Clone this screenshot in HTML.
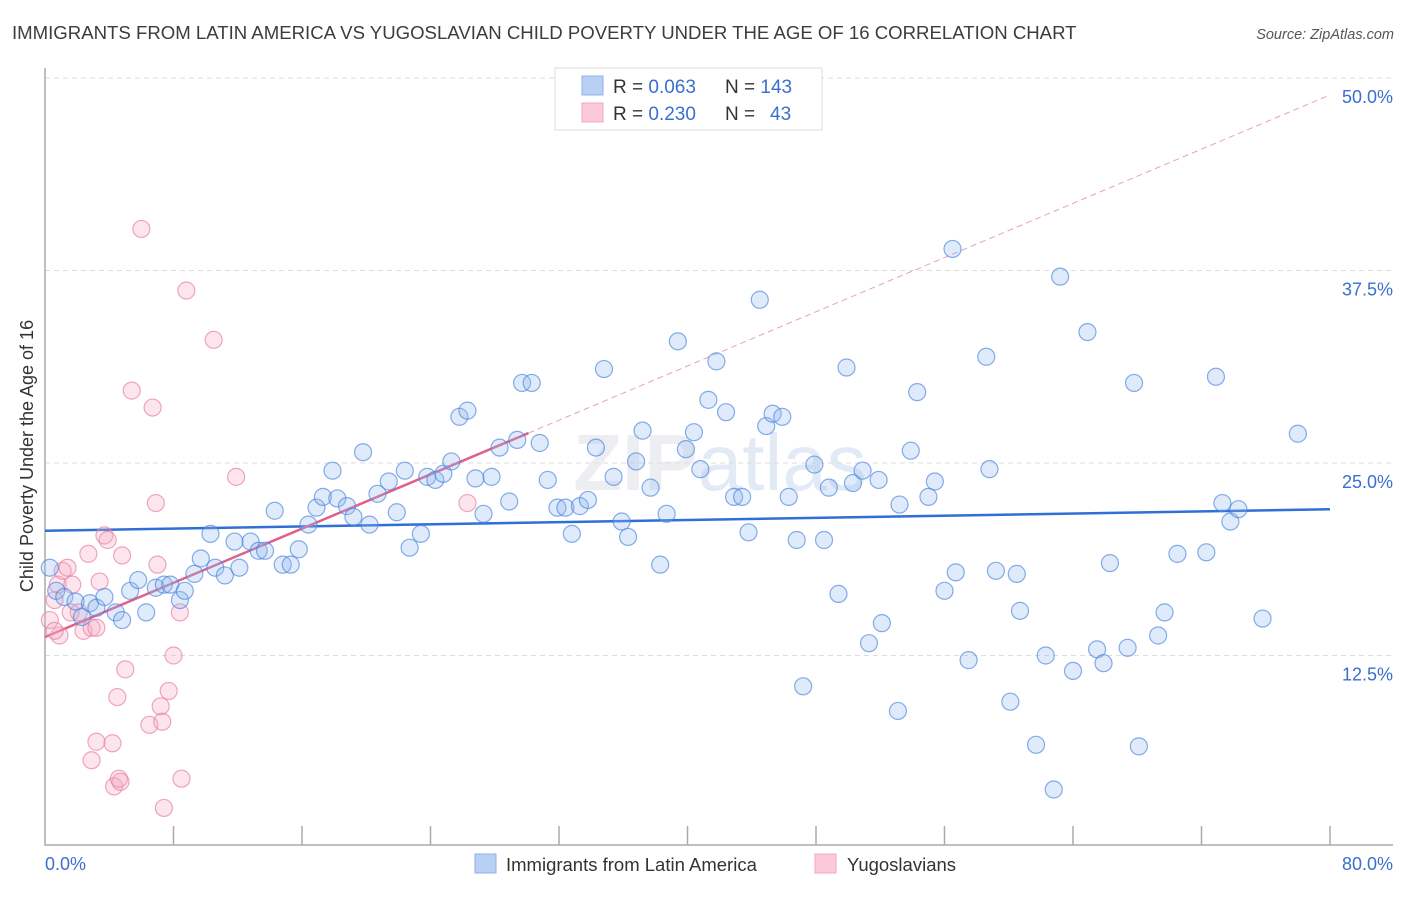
<!DOCTYPE html>
<html><head><meta charset="utf-8">
<style>
body{margin:0;background:#fff;font-family:"Liberation Sans",sans-serif;}
svg text{font-family:"Liberation Sans",sans-serif;}
</style></head>
<body>
<svg id="chart" width="1406" height="892" xmlns="http://www.w3.org/2000/svg">
<text x="12" y="39" font-size="18.6" fill="#3c3c3c">IMMIGRANTS FROM LATIN AMERICA VS YUGOSLAVIAN CHILD POVERTY UNDER THE AGE OF 16 CORRELATION CHART</text>
<text x="1394" y="39" font-size="14.5" font-style="italic" fill="#555" text-anchor="end">Source: ZipAtlas.com</text>
<text x="720" y="490" font-size="80" fill="#eceef2" text-anchor="middle" font-family="Liberation Serif" font-weight="bold">ZIP<tspan font-family="Liberation Sans" font-weight="normal" fill="#e2eaf6">atlas</tspan></text>
<g id="grid"></g>
<g id="axes"></g>
<g id="trends"></g>
<g id="points"></g>
<text transform="translate(33,456) rotate(-90)" font-size="18" fill="#333" text-anchor="middle">Child Poverty Under the Age of 16</text>
<g>
<rect x="555" y="68" width="267" height="62" fill="#fff" stroke="#ddd"/>
<rect x="582" y="76" width="21" height="19" fill="#b8d0f4" stroke="#8fb0e8"/>
<rect x="582" y="103" width="21" height="19" fill="#fbc9d8" stroke="#f0a6be"/>
<text x="613" y="93" font-size="19" fill="#333">R = <tspan fill="#3a6fd0">0.063</tspan><tspan x="725">N = </tspan><tspan fill="#3a6fd0">143</tspan></text>
<text x="613" y="120" font-size="19" fill="#333">R = <tspan fill="#3a6fd0">0.230</tspan><tspan x="725">N = </tspan><tspan x="770" fill="#3a6fd0">43</tspan></text>
</g>
<g>
<rect x="475" y="854" width="21" height="19" fill="#b8d0f4" stroke="#8fb0e8"/>
<text x="506" y="871" font-size="18.5" fill="#333">Immigrants from Latin America</text>
<rect x="815" y="854" width="21" height="19" fill="#fbc9d8" stroke="#f0a6be"/>
<text x="847" y="871" font-size="18.5" fill="#333">Yugoslavians</text>
</g>
</svg>
<script>
const blueX=[0.3,0.7,1.2,1.9,2.3,2.8,3.2,3.7,4.4,4.8,5.3,5.8,6.3,6.9,7.4,7.8,8.4,8.7,9.3,9.7,10.3,10.6,11.2,11.8,12.1,12.8,13.3,13.7,14.3,14.8,15.3,15.8,16.4,16.9,17.3,17.9,18.2,18.8,19.2,19.8,20.2,20.7,21.4,21.9,22.4,22.7,23.4,23.8,24.3,24.8,25.3,25.8,26.3,26.8,27.3,27.8,28.3,28.9,29.4,29.7,30.3,30.8,31.3,31.9,32.4,32.8,33.3,33.8,34.3,34.8,35.4,35.9,36.3,36.8,37.2,37.7,38.7,38.3,39.4,39.9,40.4,40.8,41.3,41.8,42.4,42.9,43.4,43.8,44.5,44.9,45.3,45.9,46.3,46.8,47.2,47.9,48.5,48.8,49.4,49.9,50.3,50.9,51.3,51.9,52.1,53.1,53.2,53.9,54.3,55.0,55.4,56.0,56.5,56.7,57.5,58.6,58.8,59.2,60.1,60.7,60.5,61.7,62.3,62.8,63.2,64.0,64.9,65.5,65.9,66.3,67.4,67.8,68.1,69.3,69.7,70.5,72.3,72.9,73.3,73.8,74.3,75.8,78.0];
const blueY=[18.2,16.7,16.3,16.0,15.0,15.9,15.6,16.3,15.3,14.8,16.7,17.4,15.3,16.9,17.1,17.1,16.1,16.7,17.8,18.8,20.4,18.2,17.7,19.9,18.2,19.9,19.3,19.3,21.9,18.4,18.4,19.4,21.0,22.1,22.8,24.5,22.7,22.2,21.5,25.7,21.0,23.0,23.8,21.8,24.5,19.5,20.4,24.1,23.9,24.3,25.1,28.0,28.4,24.0,21.7,24.1,26.0,22.5,26.5,30.2,30.2,26.3,23.9,22.1,22.1,20.4,22.2,22.6,26.0,31.1,24.1,21.2,20.2,25.1,27.1,23.4,21.7,18.4,32.9,25.9,27.0,24.6,29.1,31.6,28.3,22.8,22.8,20.5,35.6,27.4,28.2,28.0,22.8,20.0,10.5,24.9,20.0,23.4,16.5,31.2,23.7,24.5,13.3,23.9,14.6,8.9,22.3,25.8,29.6,22.8,23.8,16.7,38.9,17.9,12.2,31.9,24.6,18.0,9.5,15.4,17.8,6.7,12.5,3.8,37.1,11.5,33.5,12.9,12.0,18.5,13.0,30.2,6.6,13.8,15.3,19.1,19.2,30.6,22.4,21.2,22.0,14.9,26.9];
const pinkX=[0.3,0.6,0.8,1.1,1.4,1.6,0.9,0.6,1.7,2.1,2.4,2.7,2.9,3.2,3.4,3.7,3.9,4.2,4.3,4.5,4.7,4.8,5.0,5.4,6.0,6.5,6.7,6.9,7.0,7.2,7.3,7.7,8.0,8.4,8.5,8.8,7.4,10.5,11.9,26.3,2.9,3.2,4.6];
const pinkY=[14.8,16.1,17.1,18.0,18.2,15.3,13.8,14.1,17.1,15.3,14.1,19.1,14.3,14.3,17.3,20.3,20.0,6.8,4.0,9.8,4.3,19.0,11.6,29.7,40.2,8.0,28.6,22.4,18.4,9.2,8.2,10.2,12.5,15.3,4.5,36.2,2.6,33.0,24.1,22.4,5.7,6.9,4.5];
const blueTrend=[20.6,0.0175]; // intercept, slope
const pinkTrend=[13.7,0.44];
const yTicks=[12.5,25.0,37.5,50.0];
const yTickLabels=["12.5%","25.0%","37.5%","50.0%"];
const xTicks=[0,8,16,24,32,40,48,56,64,72,80];
const xEndLabels=["0.0%","80.0%"];

const NS="http://www.w3.org/2000/svg";
const X0=45,X1=1330,Y0=848,Y50=78;
const sx=v=>X0+(X1-X0)*v/80;
const sy=v=>Y0-(Y0-Y50)*v/50;
function mk(tag,attrs,parent){const e=document.createElementNS(NS,tag);for(const k in attrs)e.setAttribute(k,attrs[k]);parent.appendChild(e);return e;}
const grid=document.getElementById('grid'),axes=document.getElementById('axes'),tr=document.getElementById('trends'),pts=document.getElementById('points');
yTicks.forEach((t,i)=>{
 const l=mk('line',{x1:X0,x2:1393,y1:sy(t),y2:sy(t),stroke:'#ddd','stroke-dasharray':'5,4'},grid);
 
 
 const tx=mk('text',{x:1393,y:sy(t)+25,'font-size':18,fill:'#3a6fd0','text-anchor':'end'},grid);
 tx.textContent=yTickLabels[i];
 
 
});
const ax=mk('path',{d:`M${X0},68 V845 H1393`,stroke:'#aaa',fill:'none','stroke-width':1.5},axes);


xTicks.forEach(t=>{
 if(t===0)return;
 const l=mk('line',{x1:sx(t),x2:sx(t),y1:826,y2:845,stroke:'#aaa','stroke-width':1.5},axes);
 
 
});
const xl0=mk('text',{x:45,y:870,'font-size':18,fill:'#3a6fd0'},axes);xl0.textContent=xEndLabels[0];


const xl1=mk('text',{x:1393,y:870,'font-size':18,fill:'#3a6fd0','text-anchor':'end'},axes);xl1.textContent=xEndLabels[1];



function dots(xs,ys,fill,stroke,name){
 xs.forEach((x,i)=>{
  const c=mk('circle',{cx:sx(x),cy:sy(ys[i]),r:8.5,fill:fill,stroke:stroke,'stroke-width':1.2},pts);
  
  
 });
}
dots(pinkX,pinkY,'rgba(246,170,196,0.3)','rgba(232,130,165,0.7)','yugoslavian-point');
dots(blueX,blueY,'rgba(150,185,240,0.3)','rgba(70,130,220,0.65)','latin-america-point');

const bt=mk('line',{x1:sx(0),y1:sy(blueTrend[0]),x2:sx(80),y2:sy(blueTrend[0]+80*blueTrend[1]),stroke:'#2f6fd6','stroke-width':2.5},tr);


const pEnd=30.1;
const pt=mk('line',{x1:sx(0),y1:sy(pinkTrend[0]),x2:sx(pEnd),y2:sy(pinkTrend[0]+pEnd*pinkTrend[1]),stroke:'#e0608a','stroke-width':2.5},tr);


const pd=mk('line',{x1:sx(pEnd),y1:sy(pinkTrend[0]+pEnd*pinkTrend[1]),x2:sx(80),y2:sy(pinkTrend[0]+80*pinkTrend[1]),stroke:'#eaa0b8','stroke-width':1,'stroke-dasharray':'6,4'},tr);


</script>
</body></html>
